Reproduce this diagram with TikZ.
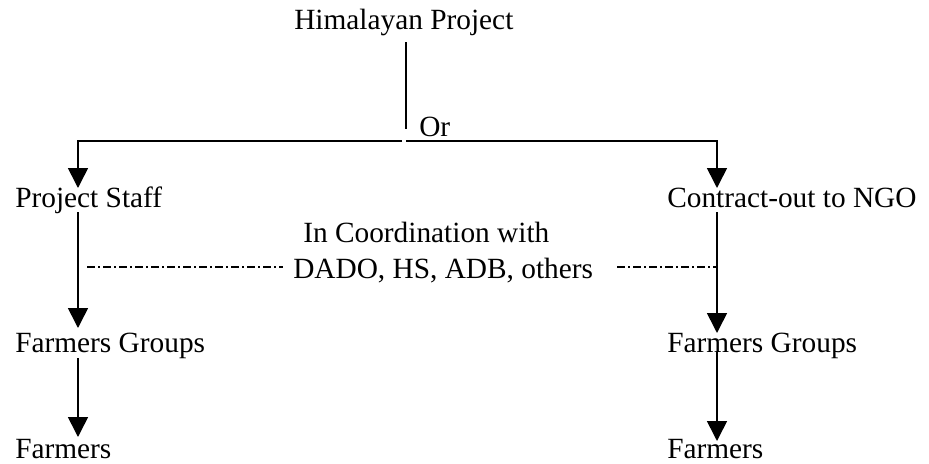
\documentclass[tikz,border=0pt]{standalone}
\usepackage{fontspec}
\setmainfont{Liberation Serif}
\usetikzlibrary{arrows.meta}
\begin{document}
\begin{tikzpicture}[x=0.75pt,y=-0.75pt,
  lbl/.style={anchor=base west,inner sep=0pt,font=\fontsize{22}{26}\selectfont},
  conn/.style={line width=1.2pt},
  arr/.style={conn,-{Triangle[length=15pt,width=15pt]}},
  dd/.style={line width=1.1pt,dash pattern=on 6pt off 2.25pt on 1.5pt off 2.25pt}]
\useasboundingbox (0,0) rectangle (929,464);
\node[lbl] (hp) at (294,30) {Himalayan Project};
\node[lbl] (or) at (419,136) {Or};
\node[lbl] (ps) at (15,207) {Project Staff};
\node[lbl] (ngo) at (667,207) {Contract-out to NGO};
\node[lbl] (coord) at (303,242) {In Coordination with};
\node[lbl] (dado) at (293,278) {DADO, HS, ADB, others};
\node[lbl] (fg1) at (15,352) {Farmers Groups};
\node[lbl] (fg2) at (667,352) {Farmers Groups};
\node[lbl] (f1) at (15,458) {Farmers};
\node[lbl] (f2) at (667,458) {Farmers};
% coordinates
\coordinate (t0) at (406,42);
\coordinate (t1) at (406,129);
\coordinate (hl) at (78,141);
\coordinate (hgL) at (402,141);
\coordinate (hgR) at (406,141);
\coordinate (hr) at (717,141);
\coordinate (a1) at (78,188);
\coordinate (a2) at (717,188);
\coordinate (l1s) at (78,212);
\coordinate (l1e) at (78,328);
\coordinate (l2s) at (78,358);
\coordinate (l2e) at (78,437);
\coordinate (r1s) at (717,212);
\coordinate (r1e) at (717,333);
\coordinate (r2s) at (717,352);
\coordinate (r2e) at (717,441);
\coordinate (dl0) at (87,267);
\coordinate (dl1) at (283,267);
\coordinate (dr0) at (617,267);
\coordinate (dr1) at (717,267);
% connectors
\draw[conn] (t0) -- (t1);
\draw[arr] (hgL) -- (hl) -- (a1);
\draw[arr] (hgR) -- (hr) -- (a2);
\draw[arr] (l1s) -- (l1e);
\draw[arr] (l2s) -- (l2e);
\draw[arr] (r1s) -- (r1e);
\draw[arr] (r2s) -- (r2e);
\draw[dd] (dl0) -- (dl1);
\draw[dd] (dr0) -- (dr1);
\end{tikzpicture}
\end{document}
